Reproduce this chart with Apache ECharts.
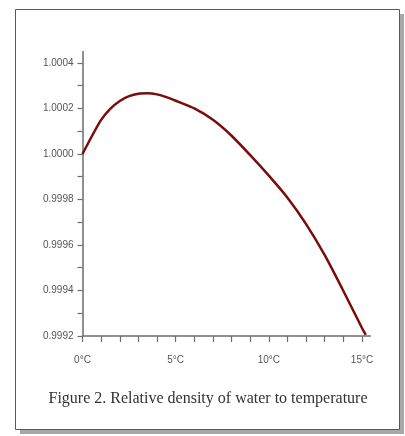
<!DOCTYPE html>
<html>
<head>
<meta charset="utf-8">
<script src="https://cdn.jsdelivr.net/npm/echarts@6/dist/echarts.min.js"></script>
<style>
html,body{margin:0;padding:0;background:#fff;}
#c{width:405px;height:436px;}
</style>
</head>
<body>
<div id="c"></div>
<script>
// Temperature (°C) and relative density
const temps = [0, 0.5, 1, 1.5, 2, 2.5, 3, 3.5, 4, 4.5, 5, 6, 7, 8, 9, 10, 11, 12, 13, 14, 15, 15.2];
const density = [1.0000, 1.000078, 1.000150, 1.000199, 1.000233, 1.000254, 1.000265, 1.000267, 1.000262, 1.000250, 1.000234, 1.000200, 1.000150, 1.000080, 0.999995, 0.999905, 0.999808, 0.999692, 0.999555, 0.999398, 0.999235, 0.999205];
const yLabelValues = [0.9992, 0.9994, 0.9996, 0.9998, 1.0000, 1.0002, 1.0004];
const yTickValues = [0.9992, 0.9993, 0.9994, 0.9995, 0.9996, 0.9997, 0.9998, 0.9999, 1.0000, 1.0001, 1.0002, 1.0003, 1.0004];
const xLabelValues = [0, 5, 10, 15];
const xTickValues = [0,1,2,3,4,5,6,7,8,9,10,11,12,13,14,15];
const title = 'Figure 2. Relative density of water to temperature';

const chart = echarts.init(document.getElementById('c'), null, {renderer: 'canvas'});
const axisGray = '#6e6e6e';
chart.setOption({
  animation: false,
  backgroundColor: '#fff',
  graphic: [
    {type: 'rect', z: -10, shape: {x: 20, y: 14, width: 384, height: 420}, style: {fill: '#a8a8a8'}},
    {type: 'rect', z: -9, shape: {x: 15.5, y: 9.5, width: 384, height: 420}, style: {fill: '#fff', stroke: '#585858', lineWidth: 1}},
    {type: 'text', z: 10, x: 208, y: 399, style: {text: title, fill: '#333', font: '16px "Liberation Serif", "DejaVu Serif", serif', align: 'center', verticalAlign: 'middle'}}
  ],
  grid: {left: 82.5, right: 34.6, top: 51.6, bottom: 100, containLabel: false},
  xAxis: {
    type: 'value', min: 0, max: 15.45,
    axisLine: {show: true, onZero: false, lineStyle: {color: axisGray, width: 1.5}},
    axisTick: {show: true, inside: false, length: 6, customValues: xTickValues, lineStyle: {color: axisGray, width: 1.2}},
    axisLabel: {customValues: xLabelValues, formatter: v => v + '°C', margin: 19, color: '#555', fontSize: 10, fontFamily: '"Liberation Sans", Arial, sans-serif'},
    splitLine: {show: false}
  },
  yAxis: {
    type: 'value', min: 0.9992, max: 1.00045,
    axisLine: {show: true, onZero: false, lineStyle: {color: axisGray, width: 1.5}},
    axisTick: {show: true, inside: false, length: 5, customValues: yTickValues, lineStyle: {color: axisGray, width: 1.2}},
    axisLabel: {customValues: yLabelValues, formatter: v => v.toFixed(4), margin: 9, color: '#555', fontSize: 10, fontFamily: '"Liberation Sans", Arial, sans-serif'},
    splitLine: {show: false}
  },
  series: [{
    type: 'line',
    data: temps.map((t, i) => [t, density[i]]),
    showSymbol: false,
    smooth: 0.2,
    lineStyle: {color: '#7a0c0c', width: 2.5}
  }]
});
</script>
</body>
</html>
